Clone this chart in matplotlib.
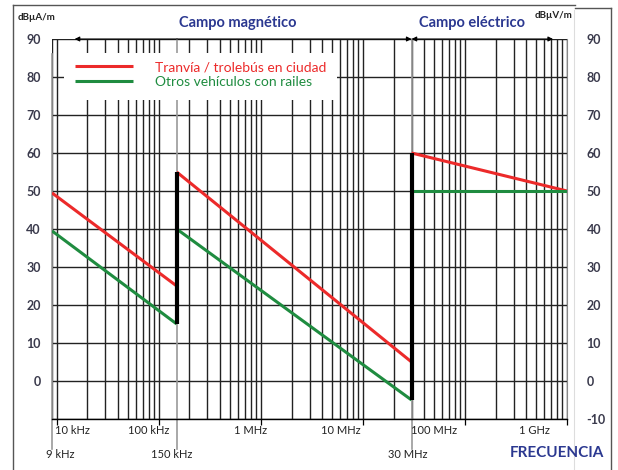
import numpy as np
import matplotlib.pyplot as plt
from matplotlib.ticker import LogLocator, NullFormatter, FixedLocator
from matplotlib.patches import Rectangle
from matplotlib.lines import Line2D

plt.rcParams['font.family'] = ['Lato', 'DejaVu Sans']

# limit lines per frequency band (start / end level of each band)
band_edges = [9e3, 150e3, 30e6, 1e9]
tram_start = [49.5, 55, 60]
tram_end = [25, 5, 50]
rail_start = [39.5, 40, 50]
rail_end = [15, -5, 50]

y_ticks = list(range(-10, 91, 10))
decade_freqs = [1e4, 1e5, 1e6, 1e7, 1e8, 1e9]
decade_labels = ['10 kHz', '100 kHz', '1 MHz', '10 MHz', '100 MHz', '1 GHz']
decade_shift = [16, -10, -10, -22, -31, -33]   # label offsets in pixels
mark_freqs = [9e3, 150e3, 30e6]
mark_labels = ['9 kHz', '150 kHz', '30 MHz']
mark_shift = [8, -5, -4]

RED = '#ec2a2a'
GREEN = '#1f8c40'
BLUE = '#2b3890'
NUM = '#3a3a4c'

fig = plt.figure(figsize=(6.18, 4.70), dpi=100)
ax = fig.add_axes([52 / 618, 51 / 470, 515 / 618, 380 / 470])
ax.set_xscale('log')
ax.set_xlim(band_edges[0], band_edges[-1])
ax.set_ylim(-10, 90)
ax.set_axisbelow(True)

# grid
ax.xaxis.set_major_locator(FixedLocator(decade_freqs))
ax.xaxis.set_minor_locator(LogLocator(base=10, subs=np.arange(2, 10)))
ax.xaxis.set_major_formatter(NullFormatter())
ax.xaxis.set_minor_formatter(NullFormatter())
ax.set_yticks(y_ticks)
ax.grid(which='both', axis='x', color='#222222', lw=1.0)
ax.grid(which='major', axis='y', color='#222222', lw=1.0)
ax.tick_params(axis='x', which='major', length=4, width=0.9, direction='out')
ax.tick_params(axis='x', which='minor', length=0)
ax.tick_params(axis='y', length=0, pad=8)
ax.set_yticklabels(['' if v == -10 else str(v) for v in y_ticks],
                   fontsize=9, fontweight='bold', color=NUM)
for s in ['top', 'left']:
    ax.spines[s].set_visible(False)
ax.spines['right'].set_color('#888888')
ax.spines['bottom'].set_linewidth(1.0)

ax2 = ax.twinx()
ax2.set_ylim(-10, 90)
ax2.set_yticks(y_ticks)
ax2.set_yticklabels([str(v) for v in y_ticks], fontsize=9,
                    fontweight='bold', color=NUM)
ax2.tick_params(axis='y', length=0, pad=14)
for s in ax2.spines.values():
    s.set_visible(False)

# gray marker lines at band limits, running down to their labels
for f, lab, dx in zip(mark_freqs, mark_labels, mark_shift):
    ax.axvline(f, ymin=-0.08, ymax=0.96 if f == mark_freqs[0] else 1.0,
               color='#999999', lw=1.2, clip_on=False, zorder=1)
    ax.annotate(lab, xy=(f, 0), xycoords=('data', 'axes fraction'),
                xytext=(dx, -36), textcoords='offset pixels',
                ha='center', va='center', fontsize=8, color='#222222')

for f, lab, dx in zip(decade_freqs, decade_labels, decade_shift):
    ax.annotate(lab, xy=(f, 0), xycoords=('data', 'axes fraction'),
                xytext=(dx, -12), textcoords='offset pixels',
                ha='center', va='center', fontsize=8, color='#222222')

# white box behind legend
ax.add_patch(Rectangle((0.023, 0.839), 0.53, 0.124, transform=ax.transAxes,
                       facecolor='white', edgecolor='none', zorder=3))

# limit lines
for i in range(3):
    seg = band_edges[i:i + 2]
    ax.plot(seg, [tram_start[i], tram_end[i]], color=RED, lw=2.2, zorder=4,
            solid_capstyle='butt', label='Tranvía / trolebús en ciudad' if i == 0 else None)
    ax.plot(seg, [rail_start[i], rail_end[i]], color=GREEN, lw=2.2, zorder=4,
            solid_capstyle='butt', label='Otros vehículos con railes' if i == 0 else None)
ax.vlines(band_edges[1:3], [rail_end[0], rail_end[1]], [tram_start[1], tram_start[2]],
          color='black', lw=3.0, zorder=5)

leg = ax.legend(loc='upper left', bbox_to_anchor=(0.02, 0.975), frameon=False,
                fontsize=10, handlelength=4.2, handletextpad=1.6, labelspacing=0.2)
for txt, c in zip(leg.get_texts(), [RED, GREEN]):
    txt.set_color(c)

# range arrows along the top
arr = dict(arrowstyle='<|-|>', color='black', lw=0.8, shrinkA=0, shrinkB=0,
           mutation_scale=7)
ax.annotate('', xy=(15e3, 90), xytext=(30e6, 90), arrowprops=arr, zorder=6)
ax.annotate('', xy=(30e6, 90), xytext=(730e6, 90), arrowprops=arr, zorder=6)

# titles and units
fig.text(238 / 618, 1 - 23 / 470, 'Campo magnético', ha='center', va='center',
         fontsize=10.5, fontweight='bold', color=BLUE)
fig.text(472 / 618, 1 - 23 / 470, 'Campo eléctrico', ha='center', va='center',
         fontsize=10.5, fontweight='bold', color=BLUE)
fig.text(18 / 618, 1 - 17 / 470, 'dBµA/m', ha='left', va='center',
         fontsize=7, fontweight='bold', color='#222222')
fig.text(572 / 618, 1 - 16 / 470, 'dBµV/m', ha='right', va='center',
         fontsize=7, fontweight='bold', color='#222222')
fig.text(557 / 618, 1 - 453 / 470, 'FRECUENCIA', ha='center', va='center',
         fontsize=11, fontweight='bold', color=BLUE)

# outer frame
fw, fh = 618, 470
frame = [((13, 13), (5, 475)), ((13, 575), (5, 5)), ((575, 611), (8, 8)),
         ((611, 611), (8, 475))]
for xs, ys in frame:
    fig.add_artist(Line2D([x / fw for x in xs], [1 - y / fh for y in ys],
                          color='#555555', lw=1.0))
fig.add_artist(Line2D([574 / fw, 574 / fw], [1 - 10 / fh, 0], color='#dddddd', lw=0.8))

fig.savefig('out.png', dpi=100)
